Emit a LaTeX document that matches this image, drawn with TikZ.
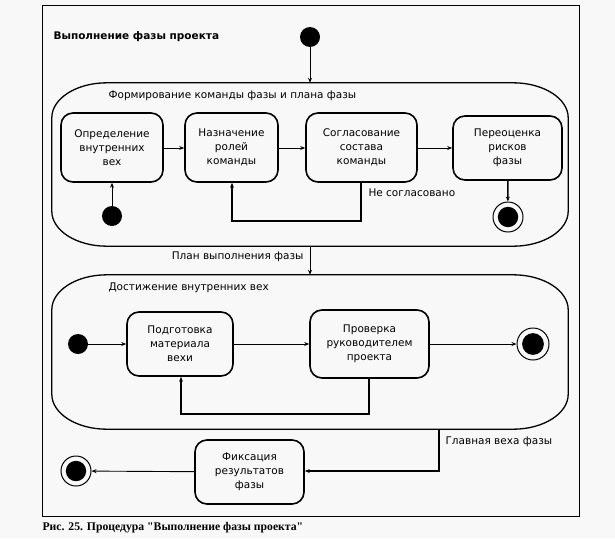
\documentclass[tikz,border=0pt]{standalone}
\usepackage{fontspec}
\setmainfont{DejaVu Sans}
\newfontfamily\capfont{Liberation Serif}
\usetikzlibrary{calc,arrows.meta}
\definecolor{bgc}{RGB}{248,248,248}
\newcommand\ElRect[3]{%
  \draw[compline] ($(#1.north west)+(#2,0)$) -- ($(#1.north east)+(-#2,0)$)
    .. controls ($(#1.north east)+(-0.448*#2,0)$) and ($(#1.north east)+(0,0.448*#3)$) .. ($(#1.north east)+(0,#3)$)
    -- ($(#1.south east)+(0,-#3)$)
    .. controls ($(#1.south east)+(0,-0.448*#3)$) and ($(#1.south east)+(-0.448*#2,0)$) .. ($(#1.south east)+(-#2,0)$)
    -- ($(#1.south west)+(#2,0)$)
    .. controls ($(#1.south west)+(0.448*#2,0)$) and ($(#1.south west)+(0,-0.448*#3)$) .. ($(#1.south west)+(0,-#3)$)
    -- ($(#1.north west)+(0,#3)$)
    .. controls ($(#1.north west)+(0,0.448*#3)$) and ($(#1.north west)+(0.448*#2,0)$) .. cycle;}
\tikzset{
  txt/.style={font=\fontsize{10.5}{14}\selectfont},
  state/.style={draw, line width=1.6pt, rounded corners=12pt, align=center, inner sep=0pt,
     font=\fontsize{10.5}{14}\selectfont},
  comp/.style={draw=none, inner sep=0pt},
  compline/.style={line width=1.3pt},
  initst/.style={circle, fill=black, inner sep=0pt, minimum size=20pt},
  finst/.style={circle, draw, line width=1pt, fill=bgc, inner sep=0pt, minimum size=#1,
     path picture={\fill[black] (path picture bounding box.center) circle[radius=0.34*#1];}},
  conn/.style={line width=0.9pt, -{Stealth[length=5pt,width=4pt]}},
  loopc/.style={line width=1.5pt, -{Stealth[length=5pt,width=4pt]}},
}
\begin{document}
\begin{tikzpicture}[x=1pt,y=-1pt]
\fill[bgc] (0,0) rectangle (615,538);
\useasboundingbox (0,0) rectangle (615,538);
\draw[line width=1pt] (42,5) rectangle (579,516);
\node[anchor=west, font=\fontsize{10.5}{14}\selectfont\bfseries] (title) at (50,37) {Выполнение фазы проекта};
\node[initst] (i1) at (310,37) {};
% composite 1
\node[comp, minimum width=516pt, minimum height=163pt] (c1) at (310,164.5) {};
\ElRect{c1}{55}{35}
\node[txt, anchor=west] (c1l) at (105,96) {Формирование команды фазы и плана фазы};
\node[state, minimum width=102pt, minimum height=69pt] (b1) at (112,147.5) {Определение\\внутренних\\вех};
\node[state, minimum width=93pt, minimum height=69pt] (b2) at (231.5,147.5) {Назначение\\ролей\\команды};
\node[state, minimum width=111pt, minimum height=69pt] (b3) at (361.5,147.5) {Согласование\\состава\\команды};
\node[state, minimum width=109pt, minimum height=64pt] (b4) at (507.5,148) {Переоценка\\рисков\\фазы};
\node[initst] (i2) at (112,216) {};
\node[finst=30pt] (f1) at (508,217) {};
\draw[conn] (i1) -- (c1.north);
\draw[conn] (i2) -- (b1);
\draw[conn] (b1.east |- 0,148) -- (b2.west |- 0,148);
\draw[conn] (b2.east |- 0,148) -- (b3.west |- 0,148);
\draw[conn] (b3.east |- 0,148) -- (b4.west |- 0,148);
\draw[loopc] (b4) -- (f1);
\coordinate (l1a) at (361,221);
\coordinate (l1b) at (232,221);
\draw[loopc] (b3.south -| l1a) -- (l1a) -- (l1b) -- (b2.south -| l1b);
\node[txt, anchor=west] (ns) at (365,193) {Не согласовано};
% composite 2
\node[comp, minimum width=516pt, minimum height=154pt] (c2) at (310,352) {};
\ElRect{c2}{55}{35}
\draw[conn] (c1.south) -- (c2.north);
\node[txt, anchor=east] (pl) at (307,257) {План выполнения фазы};
\node[txt, anchor=west] (c2l) at (105,288) {Достижение внутренних вех};
\node[initst] (i3) at (78,344) {};
\node[state, minimum width=106pt, minimum height=64pt] (b5) at (180,344) {Подготовка\\материала\\вехи};
\node[state, minimum width=119pt, minimum height=68pt] (b6) at (369.5,344) {Проверка\\руководителем\\проекта};
\node[finst=32pt] (f2) at (533,344) {};
\draw[conn] (i3) -- (b5);
\draw[conn] (b5) -- (b6);
\draw[conn] (b6) -- (f2);
\coordinate (l2a) at (369,414);
\coordinate (l2b) at (181,414);
\draw[loopc] (b6.south -| l2a) -- (l2a) -- (l2b) -- (b5.south -| l2b);
% bottom
\node[state, minimum width=109pt, minimum height=64pt] (b7) at (249.5,472) {Фиксация\\результатов\\фазы};
\node[finst=30pt] (f3) at (76,471) {};
\coordinate (g1) at (439,471);
\draw[loopc] (c2.south -| g1) -- (g1) -- (b7.east |- g1);
\node[txt, anchor=west] (gl) at (442,442) {Главная веха фазы};
\draw[conn] (b7) -- (f3);
\node[anchor=west, font=\capfont\fontsize{11.7}{13}\selectfont\bfseries] (cap) at (39,528) {Рис. 25. Процедура "Выполнение фазы проекта"};
\end{tikzpicture}
\end{document}
